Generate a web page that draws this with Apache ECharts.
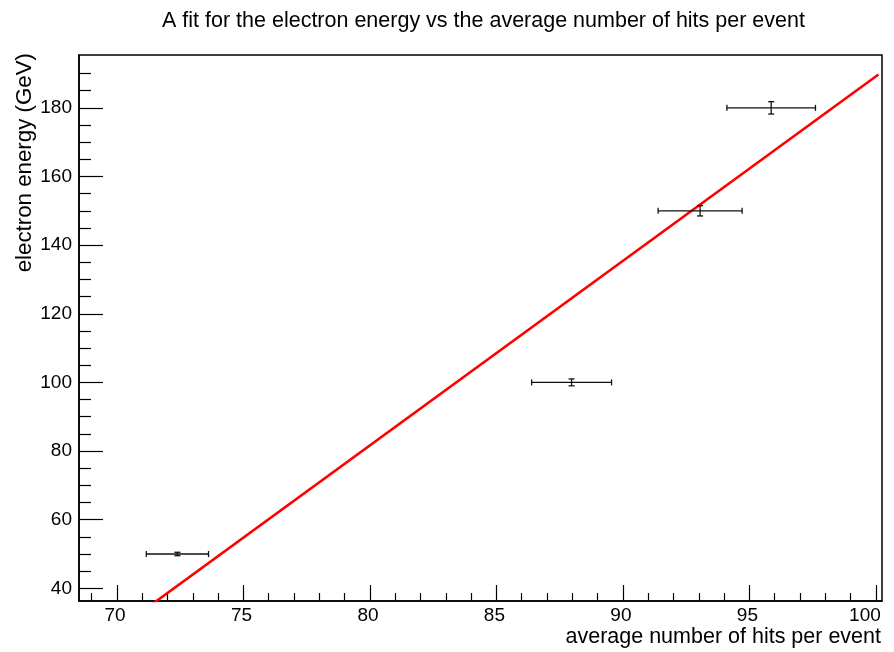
<!DOCTYPE html>
<html>
<head>
<meta charset="utf-8">
<script src="https://cdn.jsdelivr.net/npm/echarts@6/dist/echarts.min.js"></script>
<style>
html,body{margin:0;padding:0;background:#fff;}
#chart{width:894px;height:652px;}
</style>
</head>
<body>
<div id="chart"></div>
<script>
// ---- data ----
const xValues = [72.39, 87.97, 93.05, 95.86];
const yValues = [50, 100, 150, 180];
const xErrors = [1.23, 1.58, 1.66, 1.75];
const yErrors = [0.5, 1.0, 1.5, 1.8];

const fitIntercept = -348.5;
const fitSlope = 5.377;
const fitRange = [68.5, 100.1];

const xRange = [68.5, 100.24];
const yRange = [36.3, 195.4];
const xTickLabels = [70, 75, 80, 85, 90, 95, 100];
const xMinorTicks = [69, 71, 72, 73, 74, 76, 77, 78, 79, 81, 82, 83, 84, 86, 87, 88, 89, 91, 92, 93, 94, 96, 97, 98, 99];
const yTickLabels = [40, 60, 80, 100, 120, 140, 160, 180];
const yMinorTicks = [45, 50, 55, 65, 70, 75, 85, 90, 95, 105, 110, 115, 125, 130, 135, 145, 150, 155, 165, 170, 175, 185, 190];

const titleText = 'A fit for the electron energy vs the average number of hits per event';
const xTitle = 'average number of hits per event';
const yTitle = 'electron energy (GeV)';

// ---- build ----
const FONT = 'Liberation Sans, Arial, Helvetica, sans-serif';
const errData = xValues.map((x, i) => [x, yValues[i], xErrors[i], yErrors[i]]);
const fitData = fitRange.map(x => [x, fitIntercept + fitSlope * x]);
const lastX = xTickLabels[xTickLabels.length - 1];

const chart = echarts.init(document.getElementById('chart'), null, {renderer: 'canvas'});

function baseX(extra) {
  return Object.assign({
    type: 'value', min: xRange[0], max: xRange[1], position: 'bottom',
    splitLine: {show: false}
  }, extra);
}
function baseY(extra) {
  return Object.assign({
    type: 'value', min: yRange[0], max: yRange[1], position: 'left',
    splitLine: {show: false}
  }, extra);
}

const labelFont = {color: '#000', fontSize: 19, fontFamily: FONT};

const option = {
  animation: false,
  backgroundColor: '#ffffff',
  title: {
    text: titleText, left: 157, top: 5,
    textStyle: {fontFamily: FONT, fontSize: 21.5, fontWeight: 'normal', color: '#000'}
  },
  grid: {
    left: 79, top: 55, width: 803, height: 546,
    show: true, borderColor: '#000', borderWidth: 1.5, backgroundColor: 'transparent'
  },
  xAxis: [
    baseX({
      axisLine: {show: true, lineStyle: {color: '#000', width: 1.5}},
      axisTick: {show: true, inside: true, length: 16, customValues: xTickLabels, lineStyle: {color: '#000', width: 1.2}},
      axisLabel: {
        show: true, customValues: xTickLabels, margin: 5,
        formatter: function (v) { return v === lastX ? '{last|' + v + '}' : '{a|' + v + '}'; },
        rich: {
          a: Object.assign({padding: [0, 4, 0, 0]}, labelFont),
          last: Object.assign({padding: [0, 22, 0, 0]}, labelFont)
        }
      }
    }),
    baseX({
      axisLine: {show: false},
      axisTick: {show: true, inside: true, length: 8, customValues: xMinorTicks, lineStyle: {color: '#000', width: 1.2}},
      axisLabel: {show: false}
    })
  ],
  yAxis: [
    baseY({
      axisLine: {show: true, lineStyle: {color: '#000', width: 1.5}},
      axisTick: {show: true, inside: true, length: 24, customValues: yTickLabels, lineStyle: {color: '#000', width: 1.2}},
      axisLabel: Object.assign({show: true, customValues: yTickLabels, margin: 7, padding: [4, 0, 0, 0]}, labelFont)
    }),
    baseY({
      axisLine: {show: false},
      axisTick: {show: true, inside: true, length: 12, customValues: yMinorTicks, lineStyle: {color: '#000', width: 1.2}},
      axisLabel: {show: false}
    })
  ],
  graphic: [
    {
      type: 'text', x: 881, y: 637,
      style: {text: xTitle, fontFamily: FONT, fontSize: 21.5, fill: '#000', align: 'right', verticalAlign: 'middle'}
    },
    {
      type: 'text', x: 14, y: 53, rotation: Math.PI / 2,
      style: {text: yTitle, fontFamily: FONT, fontSize: 22.3, fill: '#000', align: 'right', verticalAlign: 'top'}
    }
  ],
  series: [
    {
      type: 'line', xAxisIndex: 0, yAxisIndex: 0,
      data: fitData, showSymbol: false, clip: true,
      lineStyle: {color: '#ff0000', width: 2.6}, z: 3
    },
    {
      type: 'custom', xAxisIndex: 0, yAxisIndex: 0, z: 4,
      data: errData,
      renderItem: function (params, api) {
        const x = api.value(0), y = api.value(1), ex = api.value(2), ey = api.value(3);
        const c = api.coord([x, y]);
        const l = api.coord([x - ex, y]);
        const r = api.coord([x + ex, y]);
        const b = api.coord([x, y - ey]);
        const t = api.coord([x, y + ey]);
        const st = {stroke: '#111', lineWidth: 1.3};
        const cap = 3;
        return {
          type: 'group',
          children: [
            {type: 'line', shape: {x1: l[0], y1: c[1], x2: r[0], y2: c[1]}, style: st},
            {type: 'line', shape: {x1: l[0], y1: c[1] - cap, x2: l[0], y2: c[1] + cap}, style: st},
            {type: 'line', shape: {x1: r[0], y1: c[1] - cap, x2: r[0], y2: c[1] + cap}, style: st},
            {type: 'line', shape: {x1: c[0], y1: b[1], x2: c[0], y2: t[1]}, style: st},
            {type: 'line', shape: {x1: c[0] - cap, y1: b[1], x2: c[0] + cap, y2: b[1]}, style: st},
            {type: 'line', shape: {x1: c[0] - cap, y1: t[1], x2: c[0] + cap, y2: t[1]}, style: st}
          ]
        };
      }
    }
  ]
};
chart.setOption(option);
</script>
</body>
</html>
